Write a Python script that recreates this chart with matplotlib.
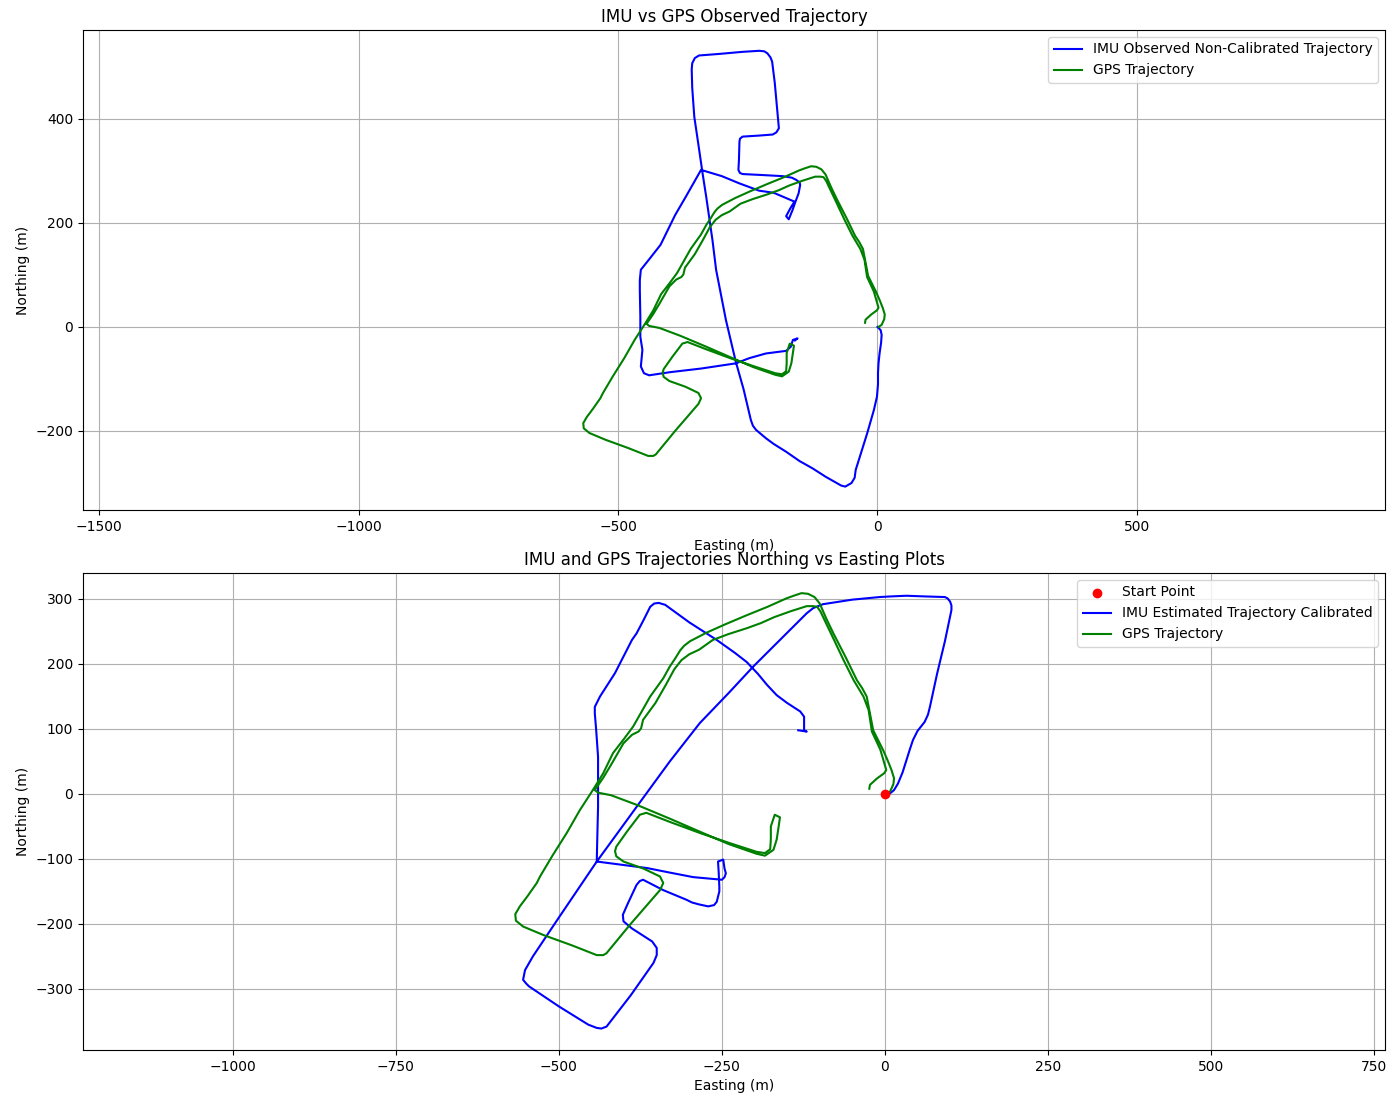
import matplotlib
matplotlib.use("Agg")
import matplotlib.pyplot as plt

# GPS trajectory (UTM relative, metres)
gps_easting = [2, 8, 13, 14, 10, 4, -3, -10, -18, -23, -28, -35, -43, -60, -79, -90, -100, -108, -118, -128,
               -140, -151, -180, -212, -245, -274, -299, -308, -314, -322, -330, -340, -360, -386, -400, -417,
               -432, -448, -468, -488, -510, -529, -534, -548, -560, -567, -566, -555, -524, -480, -442, -432,
               -427, -390, -345, -340, -345, -370, -401, -412, -414, -412, -395, -376, -366, -330, -284, -240,
               -197, -184, -176, -175, -175, -169, -161, -163, -166, -171, -184, -197, -240, -284, -330, -380,
               -420, -440, -445, -432, -420, -401, -388, -378, -374, -371, -352, -336, -323, -312, -300, -285,
               -264, -240, -212, -190, -170, -145, -120, -110, -104, -99, -90, -79, -63, -48, -33, -25, -20,
               -7, 2, -1, -12, -23, -24]
gps_northing = [0, 4, 15, 24, 37, 52, 68, 82, 98, 124, 150, 163, 175, 210, 247, 270, 293, 303, 308, 309,
                305, 301, 288, 275, 261, 248, 235, 228, 221, 208, 196, 178, 150, 104, 85, 63,
                32, 6, -25, -60, -95, -127, -137, -157, -173, -185, -195, -204, -217, -233, -248, -248,
                -245, -200, -148, -137, -127, -115, -104, -96, -88, -81, -57, -32, -29, -43, -60, -75,
                -89, -91, -85, -70, -50, -32, -36, -50, -70, -86, -95, -92, -77, -58, -38, -17,
                -2, 2, 6, 25, 45, 78, 91, 96, 101, 114, 140, 168, 192, 206, 215, 222,
                237, 246, 255, 263, 272, 281, 289, 289, 288, 281, 262, 239, 205, 175, 150, 129, 96,
                68, 37, 32, 24, 14, 8]

# IMU observed (non-calibrated) trajectory
imu_raw_easting = [0, 6, 8, 7, 4, 2, 1, 1, -1, -7, -20, -42, -44, -50, -62, -70, -77, -100, -125, -150,
                   -176, -200, -215, -234, -240, -244, -258, -273, -292, -311, -318, -330, -337, -345, -353,
                   -357, -358, -357, -352, -344, -305, -260, -228, -218, -212, -206, -203, -198, -192, -190,
                   -195, -202, -228, -260, -265, -266, -267, -268, -265, -260, -220, -183, -165, -157, -150,
                   -149, -152, -158, -164, -171, -176, -168, -160, -200, -228, -266, -300, -340, -369, -390,
                   -418, -440, -456, -458, -458, -457, -457, -453, -456, -450, -440, -400, -340, -273, -247,
                   -215, -176, -167, -163, -154, -159]
imu_raw_northing = [0, -6, -15, -30, -51, -70, -89, -110, -134, -160, -205, -275, -290, -300, -307, -305,
                    -301, -288, -272, -258, -240, -225, -214, -198, -190, -179, -120, -67, 13, 110, 167, 250,
                    295, 350, 404, 460, 495, 507, 517, 522, 525, 529, 531, 530, 526, 518, 510, 470, 404, 382,
                    374, 370, 368, 366, 362, 356, 320, 302, 296, 294, 292, 290, 287, 283, 278, 273, 257, 241,
                    224, 207, 213, 228, 241, 258, 262, 276, 290, 302, 251, 215, 158, 130, 110, 90, 71, 20,
                    -19, -44, -76, -89, -93, -87, -80, -70, -60, -51, -46, -38, -25, -22, -26]

# IMU estimated (calibrated) trajectory
imu_cal_easting = [0, 8, 14, 20, 27, 33, 38, 43, 50, 61, 66, 69, 80, 92, 102, 102, 100, 96, 92, 60, 33, 10,
                   -8, -50, -95, -110, -120, -130, -165, -202, -240, -284, -330, -381, -410, -442, -500,
                   -540, -552, -555, -550, -546, -500, -455, -442, -435, -427, -390, -355, -350, -350, -357,
                   -388, -401, -402, -395, -381, -376, -371, -340, -304, -296, -285, -271, -262, -258, -254,
                   -254, -255, -256, -248, -246, -244, -246, -250, -294, -330, -365, -442, -441, -440, -440,
                   -440, -443, -445, -445, -437, -414, -388, -381, -370, -360, -354, -347, -337, -300, -258,
                   -230, -212, -195, -181, -166, -150, -130, -124, -124, -120, -133]
imu_cal_northing = [0, 1, 6, 16, 33, 52, 68, 83, 97, 111, 122, 134, 185, 235, 283, 290, 296, 301, 303, 304,
                    305, 304, 303, 299, 292, 286, 278, 268, 233, 196, 155, 109, 50, -20, -60, -104, -190,
                    -250, -271, -286, -292, -296, -327, -355, -360, -361, -358, -310, -260, -248, -237, -227,
                    -207, -196, -186, -170, -140, -134, -132, -148, -163, -167, -170, -173, -171, -166, -150,
                    -143, -120, -104, -101, -115, -122, -128, -132, -128, -121, -114, -104, -60, -20, 6, 57,
                    100, 124, 134, 150, 186, 237, 247, 268, 288, 293, 294, 291, 264, 237, 217, 203, 185, 168,
                    152, 140, 127, 119, 98, 96, 98]

start_point = (0, 0)

fig = plt.figure(figsize=(14, 10.97), dpi=100)
ax1 = fig.add_axes([83 / 1400, 1 - 510 / 1097, (1385 - 83) / 1400, 480 / 1097])
ax2 = fig.add_axes([83 / 1400, 1 - 1050 / 1097, (1385 - 83) / 1400, 477 / 1097])

ax1.plot(imu_raw_easting, imu_raw_northing, color="blue", label="IMU Observed Non-Calibrated Trajectory")
ax1.plot(gps_easting, gps_northing, color="green", label="GPS Trajectory")
ax1.set_title("IMU vs GPS Observed Trajectory")
ax1.set_xlabel("Easting (m)")
ax1.set_ylabel("Northing (m)")
ax1.set_xlim(-1531, 978)
ax1.set_ylim(-352, 571)
ax1.set_xticks([-1500, -1000, -500, 0, 500])
ax1.set_yticks([-200, 0, 200, 400])
ax1.grid(True)
ax1.legend(loc="upper right")

ax2.scatter([start_point[0]], [start_point[1]], color="red", label="Start Point", zorder=3)
ax2.plot(imu_cal_easting, imu_cal_northing, color="blue", label="IMU Estimated Trajectory Calibrated")
ax2.plot(gps_easting, gps_northing, color="green", label="GPS Trajectory")
ax2.set_title("IMU and GPS Trajectories Northing vs Easting Plots")
ax2.set_xlabel("Easting (m)")
ax2.set_ylabel("Northing (m)")
ax2.set_xlim(-1230, 767)
ax2.set_ylim(-394, 340)
ax2.set_xticks([-1000, -750, -500, -250, 0, 250, 500, 750])
ax2.set_yticks([-300, -200, -100, 0, 100, 200, 300])
ax2.grid(True)
ax2.legend(loc="upper right")

fig.savefig("out.png", dpi=100)
